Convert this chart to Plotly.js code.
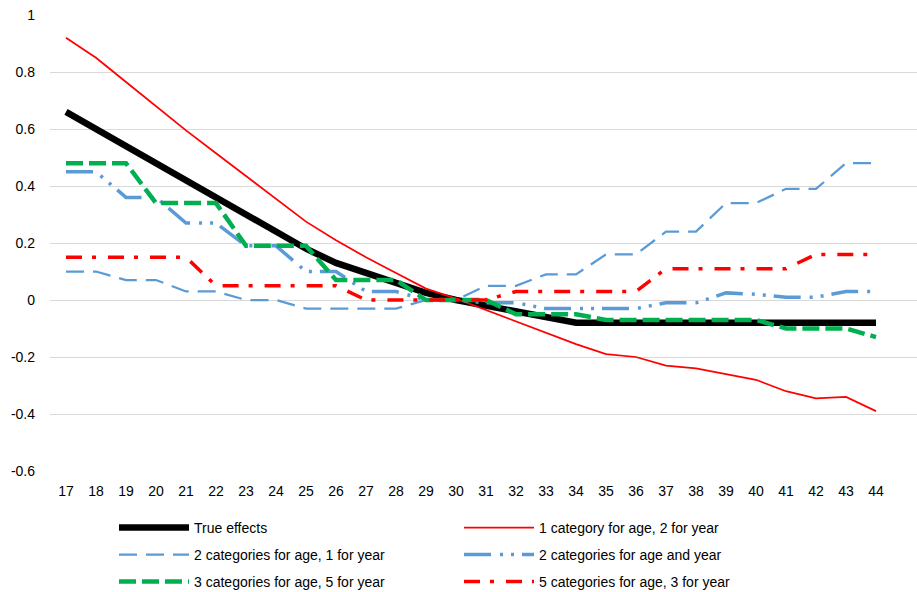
<!DOCTYPE html>
<html>
<head>
<meta charset="utf-8">
<script src="https://cdn.plot.ly/plotly-3.0.1.min.js"></script>
<style>
  html, body { margin: 0; padding: 0; background: #fff; }
  #chart { width: 917px; height: 592px; }
</style>
</head>
<body>
<div id="chart"></div>
<script>
const ages = [17, 18, 19, 20, 21, 22, 23, 24, 25, 26, 27, 28, 29, 30, 31, 32, 33, 34, 35, 36, 37, 38, 39, 40, 41, 42, 43, 44];

const trueEffects = [0.66, 0.60, 0.54, 0.48, 0.42, 0.36, 0.30, 0.24, 0.18, 0.13, 0.095, 0.06, 0.025, 0.0, -0.02, -0.04, -0.06, -0.08, -0.08, -0.08, -0.08, -0.08, -0.08, -0.08, -0.08, -0.08, -0.08, -0.08];

const age1Year2 = [0.92, 0.85, 0.765, 0.68, 0.595, 0.515, 0.435, 0.355, 0.275, 0.21, 0.15, 0.095, 0.04, 0.005, -0.035, -0.075, -0.115, -0.155, -0.19, -0.20, -0.23, -0.24, -0.26, -0.28, -0.32, -0.345, -0.34, -0.39];

const age2Year1 = [0.10, 0.10, 0.07, 0.07, 0.03, 0.03, 0.0, 0.0, -0.03, -0.03, -0.03, -0.03, 0.0, 0.0, 0.05, 0.05, 0.09, 0.09, 0.16, 0.16, 0.24, 0.24, 0.34, 0.34, 0.39, 0.39, 0.48, 0.48];

const age2Year2 = [0.45, 0.45, 0.36, 0.36, 0.27, 0.27, 0.19, 0.19, 0.10, 0.10, 0.03, 0.03, 0.0, 0.0, -0.01, -0.01, -0.03, -0.03, -0.03, -0.03, -0.01, -0.01, 0.025, 0.02, 0.01, 0.01, 0.03, 0.03];

const age3Year5 = [0.48, 0.48, 0.48, 0.34, 0.34, 0.34, 0.19, 0.19, 0.19, 0.07, 0.07, 0.07, 0.0, 0.0, 0.0, -0.05, -0.05, -0.05, -0.07, -0.07, -0.07, -0.07, -0.07, -0.07, -0.10, -0.10, -0.10, -0.13];

const age5Year3 = [0.15, 0.15, 0.15, 0.15, 0.15, 0.05, 0.05, 0.05, 0.05, 0.05, 0.0, 0.0, 0.0, 0.0, 0.0, 0.03, 0.03, 0.03, 0.03, 0.03, 0.11, 0.11, 0.11, 0.11, 0.11, 0.16, 0.16, 0.16];

const seriesNames = [
  'True effects',
  '1 category for age, 2 for year',
  '2 categories for age, 1 for year',
  '2 categories for age and year',
  '3 categories for age, 5 for year',
  '5 categories for age, 3 for year'
];

const yTicks = [-0.6, -0.4, -0.2, 0, 0.2, 0.4, 0.6, 0.8, 1];
const yTickText = ['-0.6', '-0.4', '-0.2', '0', '0.2', '0.4', '0.6', '0.8', '1'];

const FONT = 'Arial, "Liberation Sans", sans-serif';

function tr(name, y, color, width, dash, legendId) {
  return {
    type: 'scatter', mode: 'lines', name: name,
    x: ages, y: y,
    line: { color: color, width: width, dash: dash, shape: 'linear' },
    legend: legendId,
    hoverinfo: 'skip'
  };
}

const data = [
  tr(seriesNames[0], trueEffects, '#000000', 6.5, 'solid', 'legend'),
  tr(seriesNames[1], age1Year2, '#FF0000', 1.75, 'solid', 'legend'),
  tr(seriesNames[2], age2Year1, '#5B9BD5', 2.25, '18px,9px', 'legend2'),
  tr(seriesNames[3], age2Year2, '#5B9BD5', 3.5, '27px,9px,3px,8px,3px,8px', 'legend2'),
  tr(seriesNames[4], age3Year5, '#00B050', 4.5, '17px,6px', 'legend3'),
  tr(seriesNames[5], age5Year3, '#FF0000', 3.5, '16px,10px,4px,12px', 'legend3')
];

function legendRow(topPx) {
  return {
    orientation: 'h',
    x: (114 - 50) / 867, xanchor: 'left',
    y: -(topPx - 471) / 456, yanchor: 'top',
    itemwidth: 70,
    entrywidth: 260, entrywidthmode: 'pixels',
    font: { family: FONT, size: 14, color: '#000000' },
    bgcolor: 'rgba(0,0,0,0)',
    traceorder: 'normal'
  };
}

const layout = {
  width: 917, height: 592,
  margin: { l: 50, r: 0, t: 15, b: 121, pad: 0, autoexpand: false },
  paper_bgcolor: '#ffffff', plot_bgcolor: '#ffffff',
  font: { family: FONT, size: 14, color: '#000000' },
  showlegend: true,
  xaxis: {
    range: [16.467, 45.367],
    tickmode: 'array', tickvals: ages, ticktext: ages.map(String),
    showgrid: false, zeroline: false, showline: false,
    ticks: '', ticklabelstandoff: 10,
    tickfont: { family: FONT, size: 14, color: '#000000' },
    fixedrange: true
  },
  yaxis: {
    range: [-0.6, 1],
    tickmode: 'array', tickvals: yTicks, ticktext: yTickText,
    showgrid: true, gridcolor: '#D9D9D9', gridwidth: 1,
    zeroline: false, showline: false,
    ticks: '', ticklabelstandoff: 14,
    tickfont: { family: FONT, size: 14, color: '#000000' },
    fixedrange: true
  },
  legend: legendRow(512),
  legend2: legendRow(539),
  legend3: legendRow(566)
};

Plotly.newPlot('chart', data, layout, { displayModeBar: false, staticPlot: true });
</script>
</body>
</html>
